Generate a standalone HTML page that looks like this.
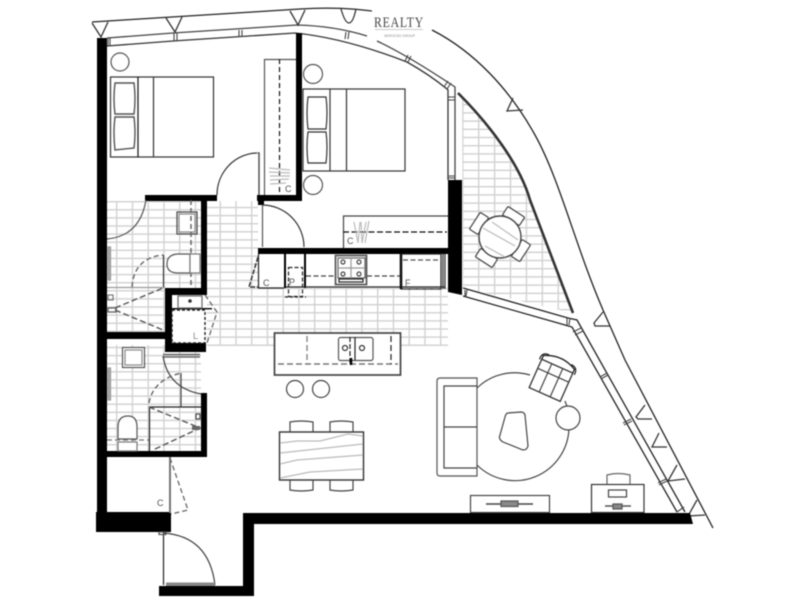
<!DOCTYPE html>
<html><head><meta charset="utf-8"><style>
html,body{margin:0;padding:0;background:#fff;width:800px;height:600px;overflow:hidden}
svg{display:block;filter:blur(.45px)}
text{font-family:"Liberation Sans",sans-serif;fill:#555}
</style></head><body>
<svg width="800" height="600" viewBox="0 0 800 600" xmlns="http://www.w3.org/2000/svg">
<defs>
<pattern id="t1" patternUnits="userSpaceOnUse" x="219.500" y="344.500" width="15.75" height="8.1"><path d="M0.7 0V8.1M0 .7H15.75" stroke="#d2d2d2" stroke-width="1.400" fill="none"/></pattern>
<pattern id="t2" patternUnits="userSpaceOnUse" x="116" y="201" width="15.75" height="8.1"><path d="M0.7 0V8.1M0 .7H15.75" stroke="#d2d2d2" stroke-width="1.400" fill="none"/></pattern>
<pattern id="t3" patternUnits="userSpaceOnUse" x="478" y="186" width="15.9" height="8.2"><path d="M0.7 0V8.2M0 .7H15.9" stroke="#d2d2d2" stroke-width="1.400" fill="none"/></pattern>
</defs>
<rect width="800" height="600" fill="#fff"/>

<!-- tiles -->
<path d="M207 201H258V288H448V346H207Z" fill="url(#t1)"/>
<path d="M107 201H201V288H165V332H107Z" fill="url(#t2)"/>
<path d="M107 345H201V451H107Z" fill="url(#t2)"/>
<path d="M462 95L458 93C490 125 520 165 530 200L573 313L463 288Z" fill="url(#t3)"/>

<!-- outer curve -->
<g fill="none" stroke="#222" stroke-width="1.300">
<path d="M92 22L300 9Q345 6 385 13"/>
<path d="M432 30C475 52 510 90 535 135C560 180 575 245 603 310L625 360L713 528"/>
<!-- glazing double -->
<path d="M107 38L173 33L297 25Q335 26 367 36M377 41Q407 55 455 87V180" stroke="#444"/>
<path d="M107 46L173 41L295 33Q345 38 407 62Q430 75 447 89L448 90V180" stroke="#333"/>
<!-- balcony curve -->
<path d="M458 93C490 125 520 165 530 200L573 313" stroke="#333" stroke-width="2.600"/>
<path d="M463 288L568 318L577 320L685 512" stroke="#222"/>
<path d="M463 296L565 325L572 327L677 512" stroke="#222"/>
<!-- mullions -->
<g stroke="#444" stroke-width="1.100">
<path d="M108 38V46M110 38V46M239 30V37M242 30V37M174 33V41M177 33V41M346 32L345 39M349 32L348 39M408 55L405 61M411 56L408 62M448 81L444 87M451 83L447 89M448 97H455M448 100H455M448 176H455M448 178H455M465 290V296M467 290L466 296M567 318V325M570 318L569 325M573 332L581 328M575 335L583 331M600 377L607 373M601 379L608 375M623 423L631 419M624 425L632 421M658 483L666 479M659 485L667 481M677 512L684 507"/>
</g>
<!-- triangles -->
<g stroke="#333" stroke-width="1.300">
<path d="M92 23L101 37L108 22"/><path d="M166 18L175 32L182 17"/><path d="M290 11L298 25L305 10"/><path d="M341 9Q345 23 349 23T356 9"/>
<path d="M513 98L507 111L523 110"/><path d="M603 312L594 323L595 326L610 326"/><path d="M645 405L636 417L638 419L652 419"/><path d="M659 433L652 447L667 447"/><path d="M677 465L668 481L685 479"/><path d="M697 500L688 516L705 515"/>
</g>
</g>

<!-- logo -->
<rect x="372" y="6" width="58" height="34" fill="#fff"/>
<text x="374" y="27" textLength="50" lengthAdjust="spacingAndGlyphs" style="font-family:'Liberation Serif',serif;font-size:15px;fill:#444;letter-spacing:1px">REALTY</text>
<rect x="375" y="29" width="48" height="1" fill="#ccc"/>
<text x="384" y="37" textLength="31" lengthAdjust="spacingAndGlyphs" style="font-size:3.500px;fill:#888">SERVICED GROUP</text>

<!-- walls -->
<g fill="#000">
<rect x="97" y="38" width="10" height="494"/>
<rect x="96" y="512" width="75" height="20"/>
<rect x="97" y="451" width="110" height="6"/>
<rect x="201" y="393" width="6" height="64"/>
<path d="M159 586H243V513H690L693 524H254V596H159Z"/>
<rect x="296" y="33" width="6" height="168"/>
<rect x="145" y="195" width="72" height="6"/>
<rect x="257" y="195" width="45" height="6"/>
<rect x="258" y="195" width="6" height="10"/>
<rect x="201" y="195" width="6" height="95"/>
<rect x="165" y="288" width="42" height="7"/>
<rect x="165" y="288" width="7" height="64"/>
<rect x="165" y="343" width="41" height="9"/>
<rect x="97" y="332" width="68" height="7"/>
<rect x="258" y="248" width="190" height="6"/>
<path d="M448 180H462V295L448 292Z"/>
<rect x="284" y="254" width="2" height="34"/>
<rect x="304" y="254" width="2" height="34"/>
<rect x="172" y="308" width="40" height="1.400"/>
</g>

<g fill="none" stroke="#333" stroke-width="1.200">
<!-- bed 1 -->
<rect x="110.500" y="77" width="103" height="80"/>
<path d="M138 77V157" stroke="#111"/><path d="M153.500 77V157"/>
<path d="M115 83H134Q136 99 134 114H115Q113 99 115 83ZM115 117H134Q136 133 134 148L115 150Q113 133 115 117Z" stroke="#555" stroke-width="1.400"/>
<circle cx="120" cy="62" r="9" stroke="#555"/>
<!-- wardrobe 1 -->
<path d="M296 59.500H264.500V195" stroke="#555"/>
<path d="M279.500 59V195" stroke="#111" stroke-dasharray="5 3"/>
<path d="M269 168L290 170M269 172L290 173M270 176L290 176M270 180L289 179M270 184L286 183" stroke="#bbb"/>
<!-- door bed 1 -->
<path d="M217 195A41 42 0 0 1 257 153"/><path d="M257.500 153H259V195" stroke="#555" stroke-width="1.500"/>
<!-- bed 2 -->
<rect x="303" y="89" width="102" height="82"/>
<path d="M330 89V171M346.500 89V171"/>
<path d="M308 97H326Q328 113 326 129H308Q306 113 308 97ZM308 132H326Q328 147 326 163H308Q306 147 308 132Z" stroke="#333"/>
<circle cx="313" cy="74" r="9.500" stroke="#555"/><circle cx="313" cy="185" r="9.500" stroke="#555"/>
<!-- door bed 2 -->
<path d="M262 205A42 42 0 0 1 304 247"/><path d="M262.500 205V247" stroke="#555"/>
<!-- wardrobe 2 -->
<path d="M343.500 248V216H448" stroke="#444"/>
<path d="M343 232H447" stroke="#111" stroke-dasharray="6 2.500"/>
<path d="M354 222L358 243M358 243L360 222M361 222L362 243M362 243L366 222M365 243L369 221" stroke="#bbb"/>
<!-- bath 1 -->
<path d="M107 239Q140 236 146 200" stroke="#555"/>
<rect x="177" y="212" width="20" height="22" stroke="#444"/><rect x="179" y="214" width="16" height="18" fill="#fff" stroke="#888"/>
<path d="M191 200V288" stroke="#666" stroke-dasharray="5 3" stroke-width="1.500"/>
<path d="M190 254H177Q167 255 167 264Q167 273 178 273H190Z" fill="#fff" stroke="#555"/><rect x="190" y="254" width="10" height="19" fill="#fff" stroke="#777"/>
<path d="M163.500 255V288" stroke="#333"/>
<path d="M132 287Q134 258 163 255" stroke="#666" stroke-dasharray="5 3" stroke-width="1.400"/>
<path d="M107 287.500H165" stroke="#999"/>
<path d="M115 308L163 288M115 310L163 330" stroke="#555" stroke-dasharray="6 3" stroke-width="1.400"/>
<rect x="108" y="247" width="2.500" height="33" fill="#aaa" stroke="#999"/>
<rect x="108" y="295" width="5" height="5" stroke="#777"/><rect x="108" y="308" width="8" height="4" stroke="#555"/>
<!-- laundry -->
<rect x="172" y="310" width="33" height="33" stroke="#222" stroke-dasharray="3 2" stroke-width="1.400"/>
<rect x="178" y="296" width="24" height="12" stroke="#666"/><circle cx="190" cy="301" r="1.200" fill="#333"/>
<path d="M205 295L217 312L207 343" stroke="#666" stroke-dasharray="5 3" stroke-width="1.300"/>
<!-- kitchen -->
<path d="M258 257L249 287H258" stroke="#333" stroke-dasharray="5 1.500" stroke-width="1.500"/>
<path d="M258.500 254V288H284M286 287H445" stroke="#222"/>
<rect x="288.500" y="267.500" width="14" height="29" fill="none" stroke="#222" stroke-dasharray="4 2"/>
<path d="M285 297H306" stroke="#222" stroke-dasharray="3 2"/>
<path d="M306 276H335M367 276H400" stroke="#444" stroke-dasharray="5 2.500"/>
<rect x="335.500" y="255.500" width="31" height="29" stroke="#555" stroke-width="1.700"/>
<path d="M338 258H365V278H338Z" stroke="#666"/>
<path d="M351 258V278M338 268H365" stroke="#999"/>
<circle cx="343" cy="262" r="2" stroke="#444"/><circle cx="359" cy="262" r="2" stroke="#444"/><circle cx="343" cy="274" r="2" stroke="#444"/><circle cx="359" cy="274" r="2" stroke="#444"/>
<rect x="339" y="279" width="24" height="3" stroke="#222"/>
<rect x="401" y="254" width="40" height="35" stroke="#222"/>
<path d="M401 254V289" stroke="#111" stroke-width="2.600"/>
<path d="M403 260H441M403 289H441" stroke="#555" stroke-dasharray="5 2.500"/>
<path d="M443 254V289M445 254V289" stroke="#333"/>
<!-- island -->
<rect x="274.500" y="333" width="126" height="42" fill="#fff" stroke="#444" stroke-width="1.700"/>
<path d="M278 364H398" stroke="#777" stroke-dasharray="6 3" stroke-width="1.400"/>
<path d="M307 336V364" stroke="#888" stroke-dasharray="6 3" stroke-width="1.400"/>
<path d="M391 336V364" stroke="#222" stroke-dasharray="6 3"/>
<rect x="338.500" y="337.500" width="34.500" height="23" rx="2" stroke="#555"/>
<path d="M355 337V360" stroke="#222"/>
<circle cx="345" cy="348" r="2.500"/><circle cx="362" cy="348" r="2.500"/>
<path d="M350 337V365" stroke="#222" stroke-dasharray="5 2"/>
<path d="M351 358V365" stroke="#000" stroke-width="2.500"/>
<!-- bath 2 -->
<rect x="122.500" y="347.500" width="22" height="20" fill="#fff" stroke="#555"/><rect x="125" y="350" width="17" height="15" stroke="#888"/>
<path d="M163 354.500H200M163 357H200" stroke="#555"/>
<path d="M163 356Q168 388 201 394" stroke="#444"/>
<rect x="108" y="368" width="2.500" height="32" fill="#aaa" stroke="#999"/>
<path d="M118 439V427Q118 416 128 416Q137 416 137 427V439Z" fill="#fff" stroke="#555"/>
<rect x="118" y="442" width="19" height="9" fill="#fff" stroke="#777"/>
<path d="M107 440H149" stroke="#777" stroke-dasharray="5 3"/>
<path d="M149.500 451V407H201" stroke="#222"/>
<path d="M181 373V407" stroke="#444"/>
<path d="M149 403Q153 380 181 373" stroke="#666" stroke-dasharray="5 3" stroke-width="1.400"/>
<path d="M149 407L200 428L153 450" stroke="#555" stroke-dasharray="6 3" stroke-width="1.400"/>
<rect x="196" y="414" width="4" height="5" stroke="#444"/>
<rect x="192" y="426" width="8" height="4" fill="#666" stroke="none"/>
<!-- closet -->
<path d="M170 457V513" stroke="#777" stroke-width="2"/>
<path d="M170 458L188 510L171 514" stroke="#666" stroke-dasharray="5 3" stroke-width="1.300"/>
<!-- entry -->
<path d="M163.500 533V585" stroke="#222"/>
<path d="M163 533Q209 536 215 585" stroke="#444"/>
<rect x="166" y="582.500" width="49" height="3.500" fill="#888" stroke="none"/>
<rect x="159" y="532" width="7" height="2.500" stroke="#555"/>
<!-- dining -->
<circle cx="295" cy="389" r="8.500" stroke="#444"/><circle cx="321" cy="389" r="8.500" stroke="#444"/>
<rect x="279.500" y="432" width="84" height="48" stroke="#333" stroke-width="1.400"/>
<path d="M290 432V422Q301 420 313 422V432M330 432V422Q341 420 353 422V432M290 480V490Q301 492 313 490V480M330 480V490Q341 492 353 490V480" stroke="#444"/>
<path d="M280 443L297 441L320 441L348 434L363 436M280 453L363 444M280 464L297 460L363 455M280 478L310 472L363 469" stroke="#bbb"/>
<!-- living -->
<path d="M477 378H440Q437 378 437 381V473Q437 476 440 476H477V378Z" stroke="#555"/>
<path d="M477 386H444V468H477M444 427H477" stroke="#444"/>
<path d="M477 388A54 54 0 0 1 530 375M565 401A54 54 0 0 1 569 427A54 54 0 0 1 477 465" stroke="#444"/>
<path d="M508 413L521 412Q524 412 525 415L528 446Q527 450 523 450L503 442Q498 439 500 435L505 417Q506 413 508 413Z" stroke="#444"/>
<circle cx="568" cy="418" r="12" stroke="#444" fill="#fff"/>
<g transform="rotate(24 552 378)">
<rect x="535" y="365" width="34" height="31" fill="#fff" stroke="#333" stroke-width="1.300"/>
<path d="M546 365V396M558 365V396M535 375H569" stroke="#444"/>
<path d="M535 365V361Q552 352 569 361V365" stroke="#222" stroke-width="1.300"/>
<path d="M533 366Q532 358 540 358M571 366Q572 358 564 358" stroke="#222"/>
</g>
<rect x="470.500" y="495.500" width="79" height="17" stroke="#444"/>
<path d="M486 504H533" stroke="#444" stroke-width="1.600"/>
<rect x="501" y="501" width="17" height="5.500" fill="#888" stroke="#555"/>
<rect x="591.500" y="484.500" width="52.500" height="28" stroke="#333"/>
<path d="M607 484V475Q618 472 630 475V484" stroke="#666"/>
<rect x="608.500" y="490" width="18" height="7" stroke="#444"/>
<path d="M605 506H631" stroke="#555" stroke-width="1.500"/>
<rect x="613" y="504" width="9" height="5" fill="#888" stroke="#555"/>
<!-- balcony table -->
<g transform="rotate(33 500 237)" fill="#fff" stroke="#444">
<rect x="490" y="207" width="20" height="10" rx="1"/><rect x="490" y="257" width="20" height="10" rx="1"/><rect x="470" y="227" width="10" height="20" rx="1"/><rect x="520" y="227" width="10" height="20" rx="1"/>
</g>
<circle cx="500" cy="237" r="21" fill="#fff" stroke="#444" stroke-width="1.400"/>
<path d="M492 222L518 240M483 228L515 246M485 246L505 257" stroke="#bbb"/>
</g>

<!-- labels -->
<g>
<text x="285" y="192" style="font-size:9px">C</text>
<text x="347" y="244" style="font-size:9px">C</text>
<text x="263" y="286" style="font-size:9px">C</text>
<text x="289" y="285" style="font-size:9px">P</text>
<text x="405" y="286" style="font-size:9px">F</text>
<text x="193" y="339" style="font-size:9px;fill:#888">L</text>
<text x="157" y="506" style="font-size:9px">C</text>
</g>
</svg>
</body></html>
